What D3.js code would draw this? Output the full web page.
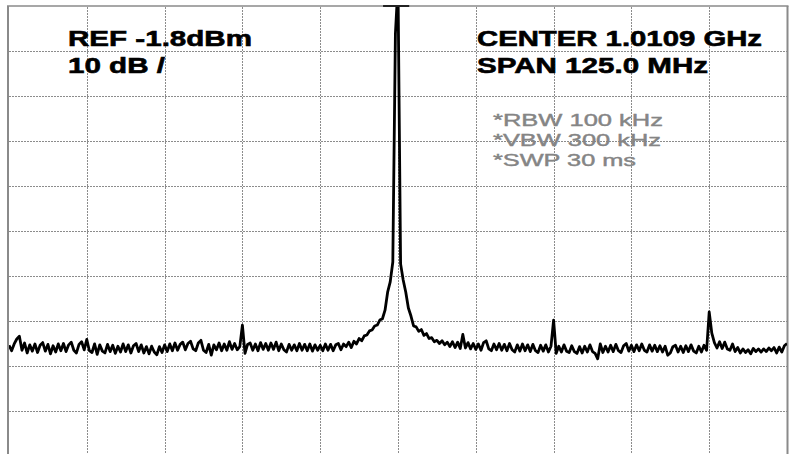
<!DOCTYPE html>
<html>
<head>
<meta charset="utf-8">
<script src="https://cdn.jsdelivr.net/npm/d3@7/dist/d3.min.js"></script>
<style>
  html, body { margin: 0; padding: 0; background: #fff; }
  svg { display: block; }
</style>
</head>
<body>
<svg id="chart" width="791" height="454"></svg>
<script>
// ---- Instrument settings ----
const refLevel = -1.8;        // dBm (top of screen)
const dbPerDiv = 10;          // dB / division
const centerMHz = 1010.9;     // 1.0109 GHz
const spanMHz = 125.0;        // MHz
const numDivX = 10;
const numDivY = 10;

// ---- Annotation texts ----
const leftLabels = ["REF -1.8dBm", "10 dB /"];
const rightLabels = ["CENTER 1.0109 GHz", "SPAN 125.0 MHz"];
const bwLabels = ["*RBW 100 kHz", "*VBW 300 kHz", "*SWP 30 ms"];

// ---- Trace amplitudes (dBm), 301 sweep points evenly spaced across the span ----
const traceDbm = [
  -77.2, -78.4, -76.9, -75.8, -75.2, -78.3, -76.7, -78.9, -77.1, -78.5,
  -76.9, -78.8, -77.2, -76.6, -78.5, -77.0, -79.1, -77.3, -78.7, -76.9,
  -78.4, -76.8, -78.6, -77.1, -76.5, -78.3, -78.9, -77.0, -76.4, -78.2,
  -75.9, -78.4, -78.8, -76.9, -79.2, -77.1, -78.5, -78.9, -77.0, -78.6,
  -77.2, -79.0, -77.4, -78.7, -76.9, -78.6, -77.1, -78.9, -77.3, -76.8,
  -78.6, -77.1, -78.9, -77.5, -79.1, -77.4, -78.7, -79.3, -77.5, -78.8,
  -77.1, -78.6, -76.9, -78.4, -76.7, -78.3, -77.0, -76.5, -78.2, -76.8,
  -76.3, -78.0, -78.4, -76.7, -76.1, -78.3, -78.8, -77.0, -79.4, -77.1,
  -78.2, -76.7, -78.4, -76.9, -78.3, -76.4, -78.1, -76.8, -78.2, -77.5,
  -72.7, -79.0, -77.0, -76.7, -78.3, -76.9, -78.4, -76.6, -78.1, -76.8,
  -78.3, -76.7, -78.1, -76.5, -78.4, -76.9, -78.2, -78.7, -77.0, -78.3,
  -77.1, -78.4, -76.8, -78.3, -77.0, -78.4, -76.9, -78.5, -77.1, -78.3,
  -77.2, -78.4, -76.9, -78.3, -77.0, -78.4, -77.1, -76.8, -78.2, -76.9,
  -77.5, -76.5, -77.7, -76.3, -76.9, -75.7, -76.2, -75.1, -74.9, -74.0,
  -73.8, -72.9, -72.7, -71.6, -71.3, -69.4, -65.4, -63.1, -58.7, -8.0,
    3.0, -59.1, -62.7, -65.4, -68.9, -70.7, -72.9, -73.1, -74.1, -73.7,
  -75.0, -74.6, -75.7, -75.5, -76.4, -76.1, -76.8, -76.2, -77.1, -76.5,
  -77.5, -76.4, -77.7, -76.5, -77.9, -74.8, -77.8, -76.6, -78.0, -76.8,
  -78.1, -76.9, -78.3, -76.6, -76.2, -78.0, -78.4, -76.9, -78.2, -76.8,
  -78.3, -77.0, -78.4, -76.8, -78.2, -78.7, -77.1, -78.5, -76.9, -78.4,
  -77.1, -78.6, -77.0, -78.4, -78.8, -77.2, -78.5, -77.1, -78.7, -77.4,
  -71.6, -79.0, -77.4, -78.7, -77.1, -78.5, -78.8, -77.3, -78.6, -79.0,
  -77.5, -78.9, -77.4, -78.7, -77.1, -78.6, -79.0, -80.2, -76.9, -78.8,
  -77.4, -78.7, -77.2, -78.6, -77.0, -78.4, -78.8, -77.3, -76.8, -78.5,
  -77.2, -78.6, -77.1, -78.4, -76.9, -78.3, -78.7, -77.1, -78.5, -77.2,
  -78.6, -77.3, -78.7, -77.4, -79.4, -78.9, -77.5, -77.2, -78.7, -77.4,
  -78.8, -77.3, -78.6, -77.1, -78.5, -78.9, -77.4, -78.7, -77.2, -78.3,
  -69.8, -74.5, -76.6, -77.8, -76.4, -77.9, -76.5, -78.0, -78.3, -76.9,
  -78.6, -77.7, -78.9, -78.0, -78.8, -78.2, -79.1, -77.9, -78.6, -78.0,
  -78.7, -78.0, -78.6, -77.8, -78.4, -77.7, -78.9, -77.6, -78.7, -77.3, -76.8
];

// ---- Layout ----
const plot = { left: 9, right: 787, top: 6, bottom: 456 };
const startMHz = centerMHz - spanMHz / 2;
const stopMHz = centerMHz + spanMHz / 2;
const bottomDbm = refLevel - dbPerDiv * numDivY;

const svg = d3.select("#chart");

const x = d3.scaleLinear().domain([startMHz, stopMHz]).range([plot.left, plot.right]);
const y = d3.scaleLinear().domain([bottomDbm, refLevel]).range([plot.bottom, plot.top]);

const trace = traceDbm.map((v, i) => ({
  f: startMHz + i * spanMHz / (traceDbm.length - 1),
  a: v
}));

// clip
svg.append("defs").append("clipPath").attr("id", "plotclip")
  .append("rect")
  .attr("x", plot.left).attr("y", plot.top)
  .attr("width", plot.right - plot.left).attr("height", plot.bottom - plot.top);

// ---- Grid (dotted) via axes ----
const xGridVals = d3.range(1, numDivX).map(k => startMHz + k * spanMHz / numDivX);
const yGridVals = d3.range(1, numDivY).map(k => bottomDbm + k * dbPerDiv);

const gx = svg.append("g")
  .attr("transform", `translate(0,${plot.bottom})`)
  .call(d3.axisBottom(x).tickValues(xGridVals)
    .tickSize(-(plot.bottom - plot.top)).tickFormat(""));
const gy = svg.append("g")
  .attr("transform", `translate(${plot.left},0)`)
  .call(d3.axisLeft(y).tickValues(yGridVals)
    .tickSize(-(plot.right - plot.left)).tickFormat(""));
[gx, gy].forEach(g => {
  g.select(".domain").remove();
  g.selectAll(".tick line")
    .attr("stroke", "#8c8c8c")
    .attr("stroke-width", 1)
    .attr("stroke-dasharray", "2,1")
    .attr("shape-rendering", "crispEdges");
});

// ---- Frame ----
const frame = svg.append("g").attr("stroke", "#8a8a8a").attr("fill", "none");
frame.append("line").attr("x1", plot.left - 1).attr("x2", plot.left - 1)
  .attr("y1", plot.top).attr("y2", 454).attr("stroke-width", 2);
frame.append("line").attr("x1", plot.right + 0.5).attr("x2", plot.right + 0.5)
  .attr("y1", plot.top).attr("y2", 454).attr("stroke-width", 2);
frame.append("line").attr("x1", plot.left - 2).attr("x2", plot.right + 1.5)
  .attr("y1", plot.top).attr("y2", plot.top).attr("stroke-width", 1.5);

// ---- Trace ----
const line = d3.line().x(d => x(d.f)).y(d => y(d.a));
svg.append("path")
  .datum(trace)
  .attr("clip-path", "url(#plotclip)")
  .attr("fill", "none")
  .attr("stroke", "#000")
  .attr("stroke-width", 2.8)
  .attr("stroke-linejoin", "round")
  .attr("d", line);

// over-range indicator at top of screen around the carrier
svg.append("line")
  .attr("x1", x(centerMHz - 2.4)).attr("x2", x(centerMHz + 1.8))
  .attr("y1", y(refLevel)).attr("y2", y(refLevel))
  .attr("stroke", "#222").attr("stroke-width", 2);

// ---- Texts ----
const fontFamily = "'Liberation Sans', Arial, sans-serif";
const boldTexts = [
  { t: leftLabels[0], x: 68, y: 46, w: 184 },
  { t: leftLabels[1], x: 68, y: 73, w: 97 },
  { t: rightLabels[0], x: 477, y: 46, w: 285 },
  { t: rightLabels[1], x: 477, y: 73, w: 231 }
];
svg.append("g").selectAll("text").data(boldTexts).join("text")
  .attr("x", d => d.x).attr("y", d => d.y)
  .attr("textLength", d => d.w).attr("lengthAdjust", "spacingAndGlyphs")
  .attr("font-family", fontFamily).attr("font-size", 22)
  .attr("font-weight", "bold").attr("fill", "#000")
  .attr("stroke", "#000").attr("stroke-width", 0.6)
  .text(d => d.t);

const grayTexts = [
  { t: bwLabels[0], x: 493, y: 126, w: 170 },
  { t: bwLabels[1], x: 493, y: 146, w: 168 },
  { t: bwLabels[2], x: 493, y: 166, w: 143 }
];
svg.append("g").selectAll("text").data(grayTexts).join("text")
  .attr("x", d => d.x).attr("y", d => d.y)
  .attr("textLength", d => d.w).attr("lengthAdjust", "spacingAndGlyphs")
  .attr("font-family", fontFamily).attr("font-size", 16)
  .attr("fill", "#858585")
  .attr("stroke", "#858585").attr("stroke-width", 0.4)
  .text(d => d.t);
</script>
</body>
</html>
